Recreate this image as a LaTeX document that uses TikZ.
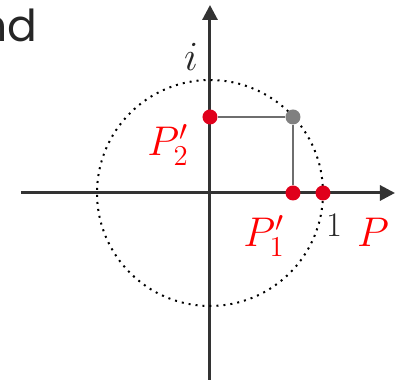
\documentclass[tikz,border=0pt]{standalone}
\usepackage{fontspec}
\usepackage{amsmath}
\newfontfamily\slidefont{Poppins}
\usetikzlibrary{arrows.meta}
\definecolor{dotred}{RGB}{224,0,27}
\definecolor{axisgray}{RGB}{51,51,51}
\definecolor{linegray}{RGB}{110,110,110}

\begin{document}
\begin{tikzpicture}[x=0.5pt,y=0.5pt,>={Triangle[length=7.5pt,width=7.5pt]},
  axis/.style={->,line width=1.5pt,draw=axisgray},
  dot/.style={circle,fill=dotred,inner sep=0pt,minimum size=7.5pt},
  lbl/.style={inner sep=0pt,text=red,font=\fontsize{22}{26}\selectfont}]
  \useasboundingbox (-210,-191) rectangle (188,193);
  % axes
  \coordinate (xl) at (-189,0);
  \coordinate (xr) at (185,0);
  \coordinate (yb) at (0,-187);
  \coordinate (yt) at (0,188);
  \draw[axis] (xl) -- (xr);
  \draw[axis] (yb) -- (yt);
  % unit circle
  \coordinate (o) at (0,0);
  \draw[line width=1pt,dash pattern=on 1pt off 2.5pt] (o) circle[radius=56.5pt];
  % points
  \node[dot] (p2) at (0,76) {};
  \node[dot,fill=gray] (q) at (83,76) {};
  \node[dot] (p1) at (83,0) {};
  \node[dot] (u) at (113,0) {};
  \draw[linegray,line width=0.75pt] (p2) -- (q) -- (p1);
  % labels
  \node[lbl] (lp2) at (-42,48) {$P_2'$};
  \node[lbl] (lp1) at (54,-43) {$P_1'$};
  \node[lbl] (lp) at (163,-39) {$P$};
  \node[inner sep=0pt,text=black!85,font=\fontsize{17.5}{20}\selectfont] (lone) at (124,-32) {$1$};
  \node[inner sep=0pt,text=black!85,font=\fontsize{20}{24}\selectfont] (li) at (-19,136) {$i$};
  \node[inner sep=0pt,anchor=base east,text=black!85,font=\slidefont\fontsize{22}{26}\selectfont] (txt) at (-172,151) {nd};
\end{tikzpicture}
\end{document}
